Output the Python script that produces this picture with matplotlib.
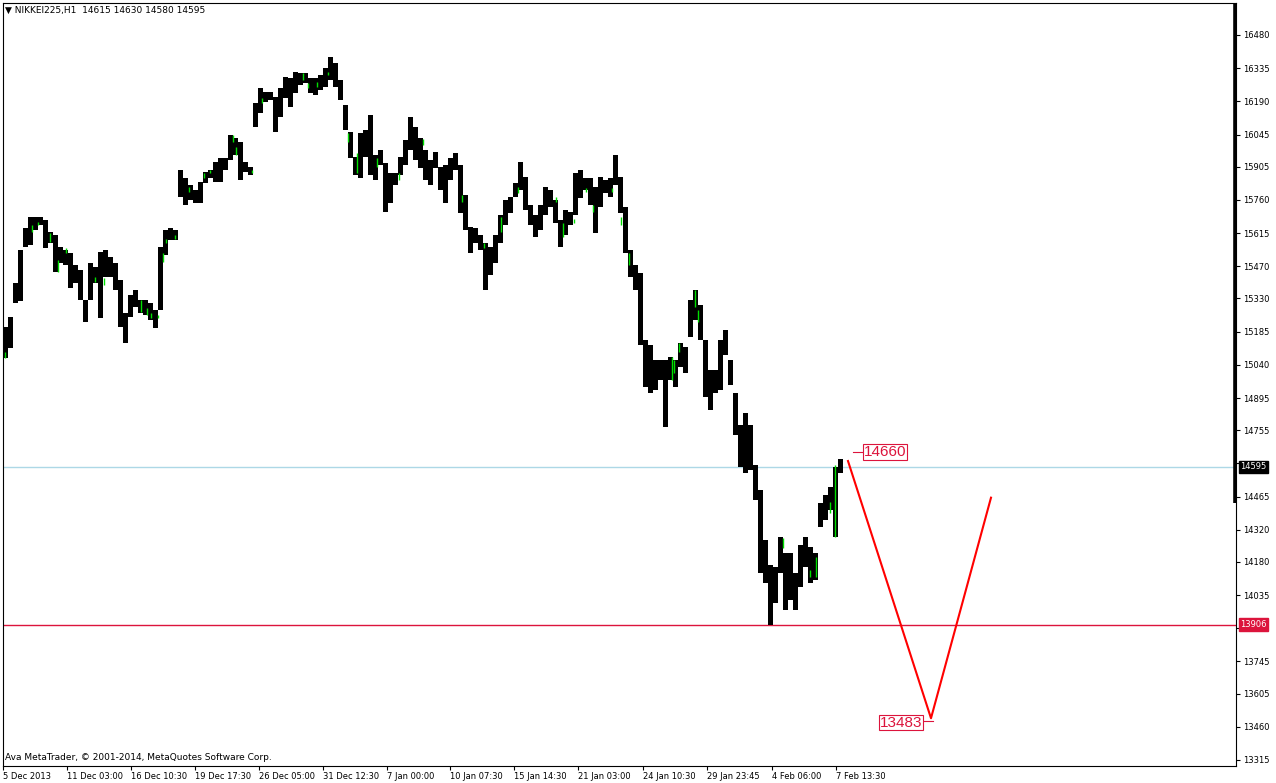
import matplotlib
matplotlib.use('Agg')
import matplotlib.pyplot as plt
import matplotlib.transforms as mtransforms

# ---------------- data ----------------
title_text = "NIKKEI225,H1  14615 14630 14580 14595"
copyright_text = "Ava MetaTrader, \u00a9 2001-2014, MetaQuotes Software Corp."

# each entry = one group of 5 consecutive H1 bars (high / low of the group)
group_hours = 5
highs = [15205, 15250, 15397, 15540, 15637, 15685, 15685, 15685, 15672, 15620,
         15607, 15555, 15541, 15528, 15475, 15454, 15323, 15485, 15467, 15533,
         15541, 15510, 15485, 15410, 15265, 15345, 15367, 15323, 15323, 15310,
         15280, 15555, 15630, 15637, 15629, 15890, 15855, 15825, 15803, 15838,
         15882, 15890, 15925, 15943, 15943, 16045, 16030, 16013, 15925, 15905,
         16183, 16248, 16230, 16230, 16210, 16248, 16297, 16293, 16318, 16314,
         16314, 16293, 16293, 16305, 16335, 16384, 16358, 16284, 16175, 16056,
         15947, 16052, 16065, 16130, 15956, 15978, 15921, 15877, 15877, 15947,
         16022, 16122, 16078, 16030, 15978, 15934, 15969, 15903, 15912, 15943,
         15965, 15912, 15782, 15642, 15637, 15607, 15572, 15555, 15607, 15694,
         15760, 15773, 15834, 15925, 15860, 15738, 15694, 15738, 15816, 15803,
         15760, 15672, 15716, 15707, 15877, 15890, 15855, 15855, 15816, 15860,
         15847, 15855, 15956, 15860, 15729, 15541, 15475, 15440, 15148, 15127,
         15061, 15061, 15061, 15074, 15061, 15135, 15118, 15323, 15367, 15301,
         15148, 15017, 15017, 15148, 15192, 15061, 14917, 14777, 14830, 14777,
         14603, 14493, 14275, 14166, 14157, 14288, 14218, 14218, 14131, 14253,
         14288, 14245, 14218, 14437, 14472, 14507, 14594, 14630]
lows = [15070, 15115, 15310, 15320, 15555, 15565, 15630, 15650, 15550, 15572,
        15445, 15485, 15475, 15375, 15397, 15323, 15225, 15323, 15397, 15245,
        15423, 15423, 15367, 15205, 15135, 15250, 15292, 15265, 15258, 15236,
        15200, 15280, 15520, 15585, 15585, 15773, 15738, 15760, 15747, 15747,
        15834, 15855, 15838, 15838, 15890, 15934, 15956, 15847, 15882, 15870,
        16078, 16140, 16187, 16196, 16056, 16122, 16205, 16165, 16227, 16262,
        16270, 16227, 16218, 16240, 16253, 16284, 16253, 16196, 16065, 15943,
        15870, 15855, 15947, 15870, 15847, 15912, 15707, 15747, 15825, 15870,
        15912, 15978, 15934, 15900, 15847, 15825, 15900, 15803, 15747, 15847,
        15890, 15703, 15629, 15528, 15572, 15541, 15367, 15432, 15485, 15572,
        15650, 15703, 15773, 15803, 15716, 15650, 15598, 15629, 15694, 15729,
        15659, 15555, 15607, 15650, 15694, 15768, 15803, 15738, 15616, 15729,
        15790, 15773, 15825, 15703, 15528, 15423, 15367, 15127, 14943, 14917,
        14930, 14974, 14769, 14974, 14943, 15030, 15004, 15162, 15236, 15148,
        14899, 14843, 14917, 14930, 15083, 14952, 14734, 14594, 14568, 14581,
        14450, 14131, 14088, 13906, 14000, 14131, 13970, 14013, 13970, 14070,
        14157, 14088, 14101, 14332, 14362, 14406, 14288, 14568]

# doji bars (drawn in the line-graph colour)
doji_bars = [2, 29, 35, 47, 55, 63, 92, 101, 138, 144, 148, 155, 160, 163, 172,
             186, 201, 207, 230, 233, 249, 259, 300, 305, 314, 325, 345, 354,
             374, 396, 420, 459, 481, 498, 515, 553, 560, 571, 583, 590, 609,
             618, 626, 669, 671, 676, 692, 695, 780, 807, 813, 827, 832]
doji_high = [15096, 15650, 15664, 15616, 15498, 15550, 15423, 15419, 15323, 15288,
             15267, 15258, 15528, 15589, 15607, 15816, 15877, 15891, 16043, 15991,
             15891, 16205, 16314, 16270, 16275, 16318, 16052, 15965, 15943, 15877,
             16026, 15781, 15572, 15685, 15816, 15773, 15659, 15677, 15812, 15738,
             15812, 15685, 15528, 15074, 15061, 15135, 15367, 15279, 14284, 14144,
             14201, 14441, 14603]
doji_low = [15070, 15620, 15650, 15576, 15445, 15528, 15402, 15388, 15271, 15258,
            15245, 15245, 15489, 15572, 15589, 15795, 15856, 15877, 16013, 15956,
            15877, 16183, 16284, 16249, 16253, 16305, 16013, 15878, 15904, 15847,
            16000, 15751, 15550, 15620, 15790, 15751, 15598, 15659, 15795, 15707,
            15795, 15650, 15476, 14974, 15004, 15096, 15292, 15227, 14240, 14114,
            14114, 14393, 14288]

bid_price = 14595
support_price = 13906
zigzag_bars = [845, 928, 988]
zigzag_prices = [14620, 13497, 14460]
label_top_price = 14660
label_bottom_price = 13483

ytick_values = [16480, 16335, 16190, 16045, 15905, 15760, 15615, 15470, 15330,
                15185, 15040, 14895, 14755, 14610, 14465, 14320, 14180, 14035,
                13890, 13745, 13605, 13460, 13315]
hidden_ytick_values = [14610, 13890]   # covered by the price tags
xtick_bars = [0, 64, 128, 192, 256, 320, 384, 447, 511, 575, 640, 704, 769, 833]
xtick_labels = ['5 Dec 2013', '11 Dec 03:00', '16 Dec 10:30', '19 Dec 17:30',
                '26 Dec 05:00', '31 Dec 12:30', '7 Jan 00:00', '10 Jan 07:30',
                '15 Jan 14:30', '21 Jan 03:00', '24 Jan 10:30', '29 Jan 23:45',
                '4 Feb 06:00', '7 Feb 13:30']

# ---------------- figure ----------------
W, H = 1276, 783
fig = plt.figure(figsize=(W / 100, H / 100), dpi=100)
fig.patch.set_facecolor('white')
ax = fig.add_axes([3 / W, 17 / H, 1233 / W, 763 / H])
ax.set_facecolor('white')

YMIN, YMAX = 13288.5, 16619.7
ax.set_xlim(0, 1233)
ax.set_ylim(YMIN, YMAX)

centers = [group_hours * g + group_hours / 2 for g in range(len(highs))]
heights = [h - l for h, l in zip(highs, lows)]
ax.bar(centers, heights, bottom=lows, width=group_hours, color='black',
       linewidth=0, antialiased=False, zorder=3)
ax.vlines(doji_bars, doji_low, doji_high, color='#00e000', lw=1.0, zorder=4)

crimson = '#dc143c'
ax.axhline(bid_price, color='#add8e6', lw=1, zorder=2)
ax.axhline(support_price, color=crimson, lw=1, zorder=2)

ax.plot(zigzag_bars, zigzag_prices, color='#ff0000', lw=1.5, zorder=5)

# price labels of the drawing
ax.plot([850, 860], [label_top_price, label_top_price], color=crimson, lw=0.8, zorder=5)
ax.text(861, label_top_price, str(label_top_price), color=crimson, fontsize=11,
        family='Liberation Sans', ha='left', va='center', zorder=6,
        bbox=dict(facecolor='white', edgecolor=crimson, lw=0.8, pad=0.6))
ax.plot([920, 930], [label_bottom_price, label_bottom_price], color=crimson, lw=0.8, zorder=5)
ax.text(919, label_bottom_price - 5, str(label_bottom_price), color=crimson, fontsize=11,
        family='Liberation Sans', ha='right', va='center', zorder=6,
        bbox=dict(facecolor='white', edgecolor=crimson, lw=0.8, pad=0.6))

# axes styling
for s in ax.spines.values():
    s.set_color('black')
    s.set_linewidth(0.8)

ax.yaxis.tick_right()
ax.set_yticks(ytick_values)
ax.set_yticklabels(['' if v in hidden_ytick_values else str(v) for v in ytick_values])
ax.tick_params(axis='y', direction='out', length=3, width=0.8, pad=2,
               labelsize=6, colors='black')
ax.set_xticks(xtick_bars)
ax.set_xticklabels(xtick_labels, ha='left')
ax.tick_params(axis='x', direction='out', length=3, width=0.8, pad=1,
               labelsize=6, colors='black')

# thick part of the right frame
ax.plot([1231.5, 1231.5], [14437, YMAX], color='black', lw=2.6,
        solid_capstyle='butt', clip_on=False, zorder=6)

# right-axis price tags
trans = mtransforms.blended_transform_factory(ax.transAxes, ax.transData)
ax.text(1.0035, bid_price, str(bid_price), transform=trans, color='white',
        fontsize=6, ha='left', va='center', zorder=7, clip_on=False,
        bbox=dict(facecolor='black', edgecolor='black', pad=1.2))
ax.text(1.0035, support_price, str(support_price), transform=trans, color='white',
        fontsize=6, ha='left', va='center', zorder=7, clip_on=False,
        bbox=dict(facecolor=crimson, edgecolor=crimson, pad=1.2))

fig.text(5 / W, 1 - 10 / H, '\u25bc ' + title_text, fontsize=6.5,
         ha='left', va='center', color='black')
fig.text(5 / W, 1 - 757 / H, copyright_text, fontsize=6.5,
         ha='left', va='center', color='black')

fig.savefig('out.png', dpi=100, facecolor='white')
